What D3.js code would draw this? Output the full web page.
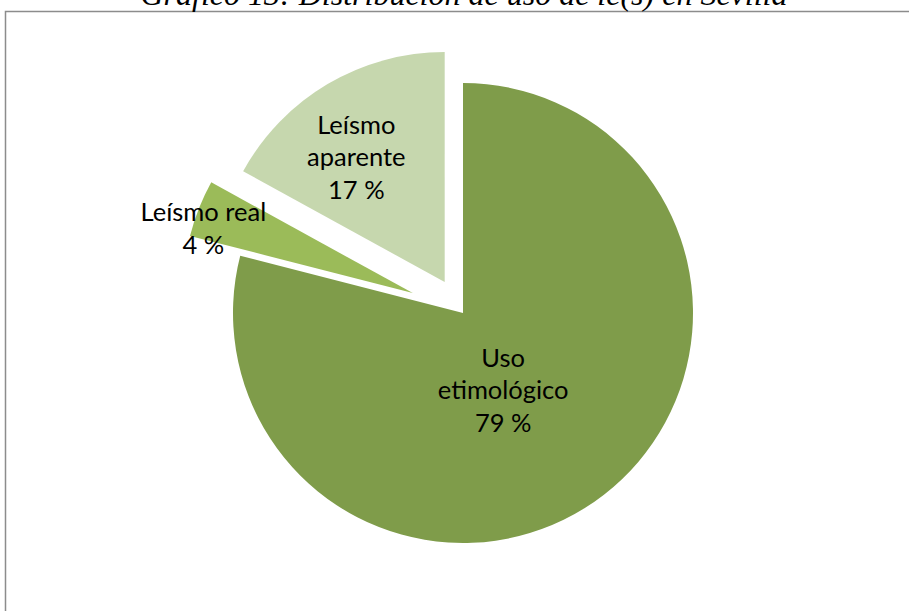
<!DOCTYPE html>
<html>
<head>
<meta charset="utf-8">
<script src="https://cdn.jsdelivr.net/npm/d3@7"></script>
<style>
  body { margin: 0; background: #fff; }
</style>
</head>
<body>
<div id="chart"></div>
<script>
  // data
  var categories = ['Uso etimológico', 'Leísmo real', 'Leísmo aparente'];
  var labelLines = [['Uso', 'etimológico'], ['Leísmo real'], ['Leísmo', 'aparente']];
  var values = [79, 4, 17];
  var title = 'Gráfico 13: Distribución de uso de le(s) en Sevilla';

  var width = 909;
  var height = 611;
  var colors = ['#7f9c4a', '#9bbb59', '#c6d7ae'];
  var explode = [0, 54, 36];
  var labelRadius = [90, 222, 152];
  var labelShift = [[-15, 6], [-3, 17], [-11, 6]];

  var svg = d3.select('#chart').append('svg')
    .attr('width', width)
    .attr('height', height);

  // 边框
  svg.append('rect')
    .attr('x', 5.5)
    .attr('y', 11.5)
    .attr('width', width + 10)
    .attr('height', height + 10)
    .attr('fill', 'none')
    .attr('stroke', '#8c8c8c')
    .attr('stroke-width', 1.5);

  // 标题
  svg.append('text')
    .attr('x', 464)
    .attr('y', 5)
    .attr('text-anchor', 'middle')
    .style('font-family', '"Liberation Serif", serif')
    .style('font-style', 'italic')
    .style('font-size', '32px')
    .attr('fill', '#000')
    .text(title);

  var radius = 230;
  var g = svg.append('g')
    .attr('transform', 'translate(463,313)');

  var pie = d3.pie().sort(null).value(function (d) { return d; });
  var arcs = pie(values);
  var arc = d3.arc().innerRadius(0).outerRadius(radius);

  function offset(d, i, r) {
    var a = (d.startAngle + d.endAngle) / 2;
    return [Math.sin(a) * r, -Math.cos(a) * r];
  }

  var slices = g.selectAll('g.slice')
    .data(arcs)
    .enter()
    .append('g')
    .attr('class', 'slice')
    .attr('transform', function (d, i) {
      var o = offset(d, i, explode[i]);
      return 'translate(' + o[0] + ',' + o[1] + ')';
    });

  slices.append('path')
    .attr('d', arc)
    .attr('fill', function (d, i) { return colors[i]; });

  // 标签
  slices.each(function (d, i) {
    var o = offset(d, i, labelRadius[i]);
    var lines = labelLines[i].concat([values[i] + ' %']);
    var lh = 32.5;
    var t = d3.select(this).append('text')
      .attr('text-anchor', 'middle')
      .style('font-family', 'Lato, "Noto Sans", sans-serif')
      .style('font-size', '25.5px')
      .attr('fill', '#000');
    lines.forEach(function (s, k) {
      t.append('tspan')
        .attr('x', o[0] + labelShift[i][0])
        .attr('y', o[1] + labelShift[i][1] + (k - (lines.length - 1) / 2) * lh + 9)
        .text(s);
    });
  });
</script>
</body>
</html>
